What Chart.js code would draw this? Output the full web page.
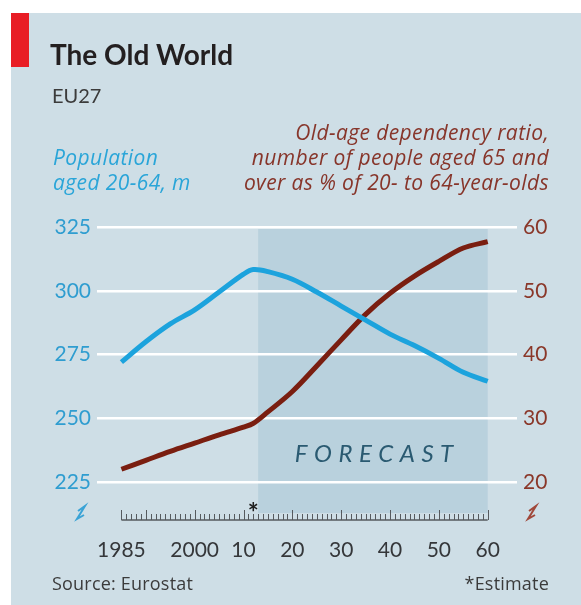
<!DOCTYPE html>
<html>
<head>
<meta charset="utf-8">
<script src="https://cdn.jsdelivr.net/npm/chart.js@4/dist/chart.umd.min.js"></script>
<style>
  html, body { margin: 0; padding: 0; background: #fff; }
  body { width: 581px; height: 605px; position: relative; overflow: hidden; font-family: Lato, "Open Sans", sans-serif; }
  #panel { position: absolute; left: 11px; top: 13px; width: 570px; height: 592px; background: #cedee6; }
  #redbar { position: absolute; left: 11px; top: 13px; width: 18px; height: 54px; background: #e81d25; }
  #wrap { position: absolute; left: 0; top: 0; width: 581px; height: 605px; }
  .txt { position: absolute; white-space: nowrap; line-height: 1.2; }
  #title { left: 50px; top: 38px; font-size: 28px; font-weight: 700; color: #231f20; }
  #sub { left: 52px; top: 83px; font-size: 20px; color: #3b3b3b; }
  .note { font-family: "Open Sans", Lato, sans-serif; font-size: 21px; font-style: italic; line-height: 25px; letter-spacing: 0.4px; }
  #leftNote { left: 53px; top: 145px; color: #2aa5d8; }
  #rightNote { right: 32px; top: 120px; color: #87352a; text-align: right; }
  .foot { font-family: "Open Sans", Lato, sans-serif; font-size: 18px; color: #3b3b3b; top: 573px; letter-spacing: 0.2px; }
  #source { left: 52px; }
  #estimate { right: 32px; }
</style>
</head>
<body>
<div id="panel"></div>
<div id="redbar"></div>
<div id="wrap"><canvas id="chart" width="581" height="605"></canvas></div>
<div class="txt" id="title">The Old World</div>
<div class="txt" id="sub">EU27</div>
<div class="txt note" id="leftNote">Population<br>aged 20-64, m</div>
<div class="txt note" id="rightNote">Old-age dependency ratio,<br>number of people aged 65 and<br>over as % of 20- to 64-year-olds</div>
<div class="txt foot" id="source">Source: Eurostat</div>
<div class="txt foot" id="estimate">*Estimate</div>
<script>
const years = [1985, 1990, 1995, 2000, 2005, 2010, 2012, 2015, 2020, 2025, 2030, 2035, 2040, 2045, 2050, 2055, 2060];
const population = [272, 280, 287, 292.5, 299.5, 306.5, 308.3, 307.5, 304.5, 299.5, 294, 288.5, 283, 278.5, 273.5, 268, 264.5];
const dependency = [22, 23.4, 24.8, 26.1, 27.4, 28.6, 29.2, 31, 34.2, 38.2, 42.3, 46.3, 49.6, 52.3, 54.6, 56.7, 57.7];
const leftTicks = [225, 250, 275, 300, 325];
const rightTicks = [20, 30, 40, 50, 60];
const xTickYears = [1985, 2000, 2010, 2020, 2030, 2040, 2050, 2060];
const xTickLabels = ["1985", "2000", "10", "20", "30", "40", "50", "60"];
const forecastStart = 2013;
const estimateYear = 2012;

const BLUE = "#1ca3dd";
const RED = "#7a1e10";

// shaded forecast block, drawn under the grid
const forecastShade = {
  id: "forecastShade",
  beforeDraw(chart) {
    const { ctx, scales: { x } } = chart;
    const x0 = x.getPixelForValue(forecastStart);
    const x1 = x.getPixelForValue(years[years.length - 1]);
    ctx.save();
    ctx.fillStyle = "#b9d1dd";
    ctx.fillRect(x0, 229, x1 - x0, 513 - 229);
    ctx.restore();
  },
  afterDraw(chart) {
    const { ctx, scales: { x } } = chart;
    ctx.save();
    // FORECAST label, spaced letters
    ctx.font = "italic 24px Lato, 'Open Sans', sans-serif";
    ctx.fillStyle = "#2a5a71";
    ctx.textBaseline = "middle";
    const word = "FORECAST";
    const gap = 6.5;
    let w = 0;
    for (const ch of word) w += ctx.measureText(ch).width;
    w += gap * (word.length - 1);
    let cx = 374 - w / 2;
    for (const ch of word) {
      ctx.fillText(ch, cx, 454);
      cx += ctx.measureText(ch).width + gap;
    }

    // year ruler
    const first = years[0], last = years[years.length - 1];
    const y0 = 520;
    ctx.strokeStyle = "#555a5e";
    ctx.lineWidth = 1.3;
    ctx.beginPath();
    ctx.moveTo(x.getPixelForValue(first), y0);
    ctx.lineTo(x.getPixelForValue(last), y0);
    ctx.stroke();
    ctx.lineWidth = 1;
    for (let yr = first; yr <= last; yr++) {
      const px = Math.round(x.getPixelForValue(yr)) + 0.5;
      const h = (yr % 10 === 0 || yr === first || yr === last) ? 10 : 6;
      ctx.beginPath();
      ctx.moveTo(px, y0);
      ctx.lineTo(px, y0 - h);
      ctx.stroke();
    }

    // estimate star
    ctx.fillStyle = "#1e1e1e";
    ctx.font = "bold 26px Lato, sans-serif";
    ctx.textAlign = "center";
    ctx.textBaseline = "alphabetic";
    ctx.fillText("*", x.getPixelForValue(estimateYear), 522);

    // axis break marks
    const brk = (bx, by, color) => {
      ctx.strokeStyle = color;
      ctx.lineWidth = 2;
      ctx.beginPath();
      ctx.moveTo(bx - 3, by - 2);
      ctx.lineTo(bx + 4, by - 7);
      ctx.lineTo(bx - 4, by + 6);
      ctx.lineTo(bx + 3, by + 2);
      ctx.stroke();
    };
    brk(81, 513, "#3aa3d6");
    brk(532, 513, "#a0483a");
    ctx.restore();
  }
};

new Chart(document.getElementById("chart"), {
  type: "line",
  data: {
    datasets: [
      {
        label: "Population aged 20-64, m",
        data: years.map((yr, i) => ({ x: yr, y: population[i] })),
        yAxisID: "yLeft",
        borderColor: BLUE,
        borderWidth: 5,
        pointRadius: 0,
        tension: 0.35,
        borderCapStyle: "butt",
      },
      {
        label: "Old-age dependency ratio",
        data: years.map((yr, i) => ({ x: yr, y: dependency[i] })),
        yAxisID: "yRight",
        borderColor: RED,
        borderWidth: 5,
        pointRadius: 0,
        tension: 0.35,
        borderCapStyle: "butt",
      },
    ],
  },
  options: {
    responsive: false,
    animation: false,
    events: [],
    layout: { padding: { top: 227, left: 0, right: 0, bottom: 0 } },
    plugins: { legend: { display: false }, tooltip: { enabled: false } },
    scales: {
      x: {
        type: "linear",
        min: 1980,
        max: 2066,
        border: { display: false },
        grid: { display: false, drawTicks: false },
        afterFit(scale) { scale.height = 123; },
        afterBuildTicks(scale) { scale.ticks = xTickYears.map(v => ({ value: v })); },
        ticks: {
          padding: 56,
          maxRotation: 0,
          autoSkip: false,
          color: "#35373a",
          font: { family: "Lato, 'Open Sans', sans-serif", size: 21 },
          callback: (v) => xTickLabels[xTickYears.indexOf(v)],
        },
      },
      yLeft: {
        position: "left",
        min: 225,
        max: 325,
        border: { display: false },
        grid: { color: "#ffffff", lineWidth: 2.5, drawTicks: false },
        afterFit(scale) { scale.width = 97; },
        afterBuildTicks(scale) { scale.ticks = leftTicks.map(v => ({ value: v })); },
        ticks: {
          padding: 6,
          color: "#2f9dd0",
          font: { family: "Lato, 'Open Sans', sans-serif", size: 21 },
        },
      },
      yRight: {
        position: "right",
        min: 20,
        max: 60,
        border: { display: false },
        grid: { display: false, drawTicks: false },
        afterFit(scale) { scale.width = 64; },
        afterBuildTicks(scale) { scale.ticks = rightTicks.map(v => ({ value: v })); },
        ticks: {
          padding: 6,
          color: "#8a3729",
          font: { family: "Lato, 'Open Sans', sans-serif", size: 21 },
        },
      },
    },
  },
  plugins: [forecastShade],
});
</script>
</body>
</html>
